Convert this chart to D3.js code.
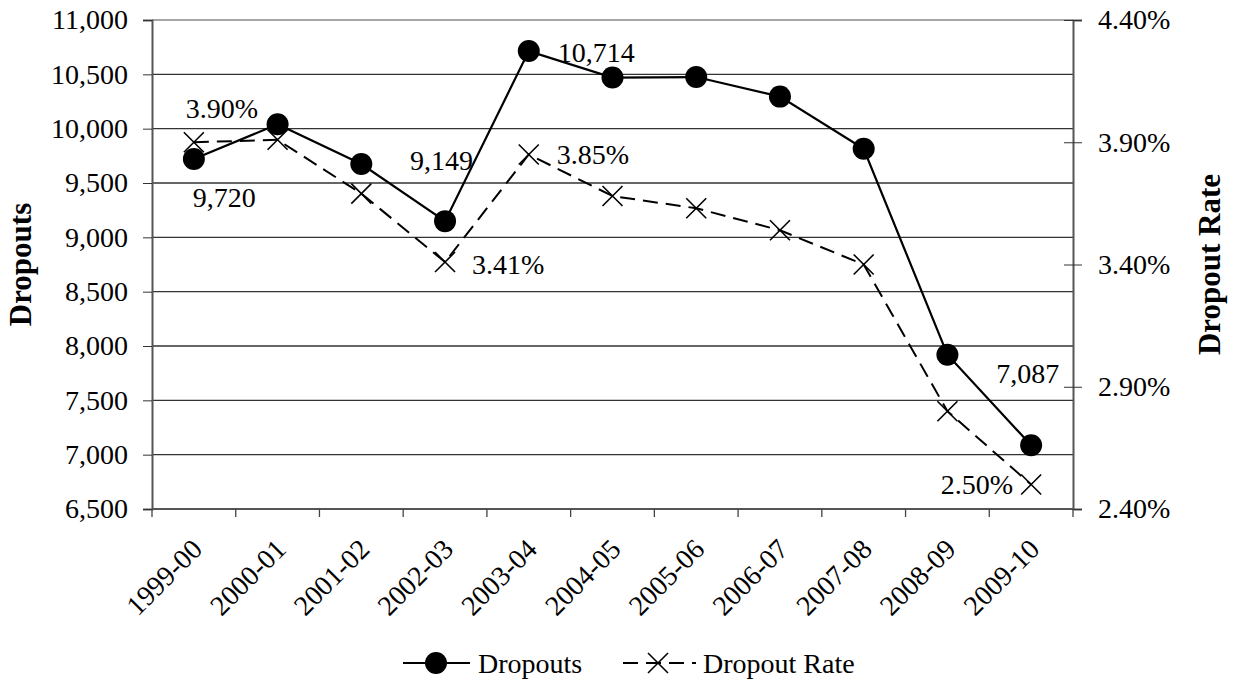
<!DOCTYPE html>
<html>
<head>
<meta charset="utf-8">
<script src="https://cdn.jsdelivr.net/npm/d3@7"></script>
<style>
    body { margin: 0; background: #fff; }
    svg text { font-family: "Liberation Serif", "Times New Roman", serif; fill: #000; }
</style>
</head>
<body>
<div id="chart"></div>
<script>
const categories = ['1999-00', '2000-01', '2001-02', '2002-03', '2003-04', '2004-05',
    '2005-06', '2006-07', '2007-08', '2008-09', '2009-10'];
const dropouts = [9720, 10040, 9675, 9149, 10714, 10470, 10475, 10295, 9815, 7920, 7087];
const dropoutRate = [3.90, 3.91, 3.69, 3.41, 3.85, 3.68, 3.63, 3.54, 3.40, 2.80, 2.50];
const leftTicks = [6500, 7000, 7500, 8000, 8500, 9000, 9500, 10000, 10500, 11000];
const rightTicks = [2.40, 2.90, 3.40, 3.90, 4.40];

// which points carry a value label, and where it sits
const labels = [
    { series: 'rate', i: 0, dx: -8, dy: -24, anchor: 'start' },
    { series: 'drop', i: 0, dx: -1, dy: 48, anchor: 'start' },
    { series: 'drop', i: 3, dx: 28, dy: -51, anchor: 'end' },
    { series: 'rate', i: 3, dx: 27, dy: 12, anchor: 'start' },
    { series: 'drop', i: 4, dx: 29, dy: 11, anchor: 'start' },
    { series: 'rate', i: 4, dx: 28, dy: 10, anchor: 'start' },
    { series: 'drop', i: 10, dx: 28, dy: -62, anchor: 'end' },
    { series: 'rate', i: 10, dx: -18, dy: 9, anchor: 'end' }
];

const width = 1238, height = 681;
const plotLeft = 152, plotRight = 1073, plotTop = 20, plotBottom = 509;
const fontSize = 28;
const titleSize = 31;

const svg = d3.select('#chart').append('svg')
    .attr('width', width)
    .attr('height', height);

const x = d3.scaleBand().domain(categories).range([plotLeft, plotRight]);
const yLeft = d3.scaleLinear().domain([6500, 11000]).range([plotBottom, plotTop]);
const yRight = d3.scaleLinear().domain([2.4, 4.4]).range([plotBottom, plotTop]);
const cx = d => x(d) + x.bandwidth() / 2;

const fmtDrop = d3.format(',');
const fmtRate = d => d3.format('.2f')(d) + '%';

// gridlines
svg.append('g')
    .selectAll('line')
    .data(leftTicks)
    .enter()
    .append('line')
    .attr('x1', plotLeft).attr('x2', plotRight)
    .attr('y1', d => yLeft(d)).attr('y2', d => yLeft(d))
    .attr('stroke', d => d === 11000 ? '#888' : '#333')
    .attr('stroke-width', 1.3);

// left axis
const leftAxis = svg.append('g')
    .attr('transform', `translate(${plotLeft},0)`)
    .call(d3.axisLeft(yLeft).tickValues(leftTicks).tickFormat(fmtDrop).tickSize(9).tickPadding(15));
leftAxis.select('.domain').attr('stroke', '#555').attr('stroke-width', 2);
leftAxis.selectAll('.tick line').attr('stroke', '#333');
leftAxis.selectAll('text').style('font-size', fontSize + 'px');

// right axis, ticks cross the line
const rightAxis = svg.append('g')
    .attr('transform', `translate(${plotRight},0)`)
    .call(d3.axisRight(yRight).tickValues(rightTicks).tickFormat(fmtRate).tickSize(9).tickPadding(16));
rightAxis.select('.domain').attr('stroke', '#555').attr('stroke-width', 2);
rightAxis.selectAll('.tick line').attr('stroke', '#333').attr('x1', -9);
rightAxis.selectAll('text').style('font-size', fontSize + 'px');

// bottom axis
const xTickPos = categories.map(c => x(c)).concat([plotRight]);
const xAxis = svg.append('g');
xAxis.append('line')
    .attr('x1', plotLeft).attr('x2', plotRight)
    .attr('y1', plotBottom).attr('y2', plotBottom)
    .attr('stroke', '#555').attr('stroke-width', 2);
xAxis.selectAll('.tk')
    .data(xTickPos)
    .enter()
    .append('line')
    .attr('class', 'tk')
    .attr('x1', d => d).attr('x2', d => d)
    .attr('y1', plotBottom).attr('y2', plotBottom + 8)
    .attr('stroke', '#444').attr('stroke-width', 1.3);
xAxis.selectAll('text')
    .data(categories)
    .enter()
    .append('text')
    .attr('transform', d => `translate(${cx(d) + 3},${plotBottom + 35}) rotate(-45)`)
    .attr('text-anchor', 'end')
    .attr('dy', '0.35em')
    .style('font-size', fontSize + 'px')
    .text(d => d);

// axis titles
svg.append('text')
    .attr('transform', `translate(31,${(plotTop + plotBottom) / 2}) rotate(-90)`)
    .attr('text-anchor', 'middle')
    .style('font-size', titleSize + 'px')
    .style('font-weight', 'bold')
    .text('Dropouts');
svg.append('text')
    .attr('transform', `translate(1220,${(plotTop + plotBottom) / 2}) rotate(-90)`)
    .attr('text-anchor', 'middle')
    .style('font-size', titleSize + 'px')
    .style('font-weight', 'bold')
    .text('Dropout Rate');

// dropout rate line (dashed, x markers)
const rateLine = d3.line()
    .x((d, i) => cx(categories[i]))
    .y(d => yRight(d));
svg.append('path')
    .datum(dropoutRate)
    .attr('d', rateLine)
    .attr('fill', 'none')
    .attr('stroke', '#000')
    .attr('stroke-width', 2)
    .attr('stroke-dasharray', '15,8');

const xMark = 10;
function drawX(g, px, py) {
    g.append('path')
        .attr('d', `M${px - xMark},${py - xMark}L${px + xMark},${py + xMark}M${px - xMark},${py + xMark}L${px + xMark},${py - xMark}`)
        .attr('stroke', '#000')
        .attr('stroke-width', 1.6)
        .attr('fill', 'none');
}
const rateMarks = svg.append('g');
dropoutRate.forEach((d, i) => drawX(rateMarks, cx(categories[i]), yRight(d)));

// dropouts line (solid, circles)
const dropLine = d3.line()
    .x((d, i) => cx(categories[i]))
    .y(d => yLeft(d));
svg.append('path')
    .datum(dropouts)
    .attr('d', dropLine)
    .attr('fill', 'none')
    .attr('stroke', '#000')
    .attr('stroke-width', 2.2);

svg.append('g')
    .selectAll('circle')
    .data(dropouts)
    .enter()
    .append('circle')
    .attr('cx', (d, i) => cx(categories[i]))
    .attr('cy', d => yLeft(d))
    .attr('r', 11)
    .attr('fill', '#000');

// value labels
svg.append('g')
    .selectAll('text')
    .data(labels)
    .enter()
    .append('text')
    .attr('x', d => cx(categories[d.i]) + d.dx)
    .attr('y', d => (d.series === 'drop' ? yLeft(dropouts[d.i]) : yRight(dropoutRate[d.i])) + d.dy)
    .attr('text-anchor', d => d.anchor)
    .style('font-size', fontSize + 'px')
    .text(d => d.series === 'drop' ? fmtDrop(dropouts[d.i]) : fmtRate(dropoutRate[d.i]));

// legend
const legY = 663;
const legend = svg.append('g');
legend.append('line')
    .attr('x1', 403).attr('x2', 470)
    .attr('y1', legY).attr('y2', legY)
    .attr('stroke', '#000').attr('stroke-width', 2.2);
legend.append('circle')
    .attr('cx', 436).attr('cy', legY).attr('r', 11).attr('fill', '#000');
legend.append('text')
    .attr('x', 478).attr('y', legY).attr('dy', '0.35em')
    .style('font-size', fontSize + 'px')
    .text('Dropouts');
legend.append('line')
    .attr('x1', 623).attr('x2', 696)
    .attr('y1', legY).attr('y2', legY)
    .attr('stroke', '#000').attr('stroke-width', 2)
    .attr('stroke-dasharray', '15,8');
drawX(legend, 658, legY);
legend.append('text')
    .attr('x', 703).attr('y', legY).attr('dy', '0.35em')
    .style('font-size', fontSize + 'px')
    .text('Dropout Rate');
</script>
</body>
</html>
